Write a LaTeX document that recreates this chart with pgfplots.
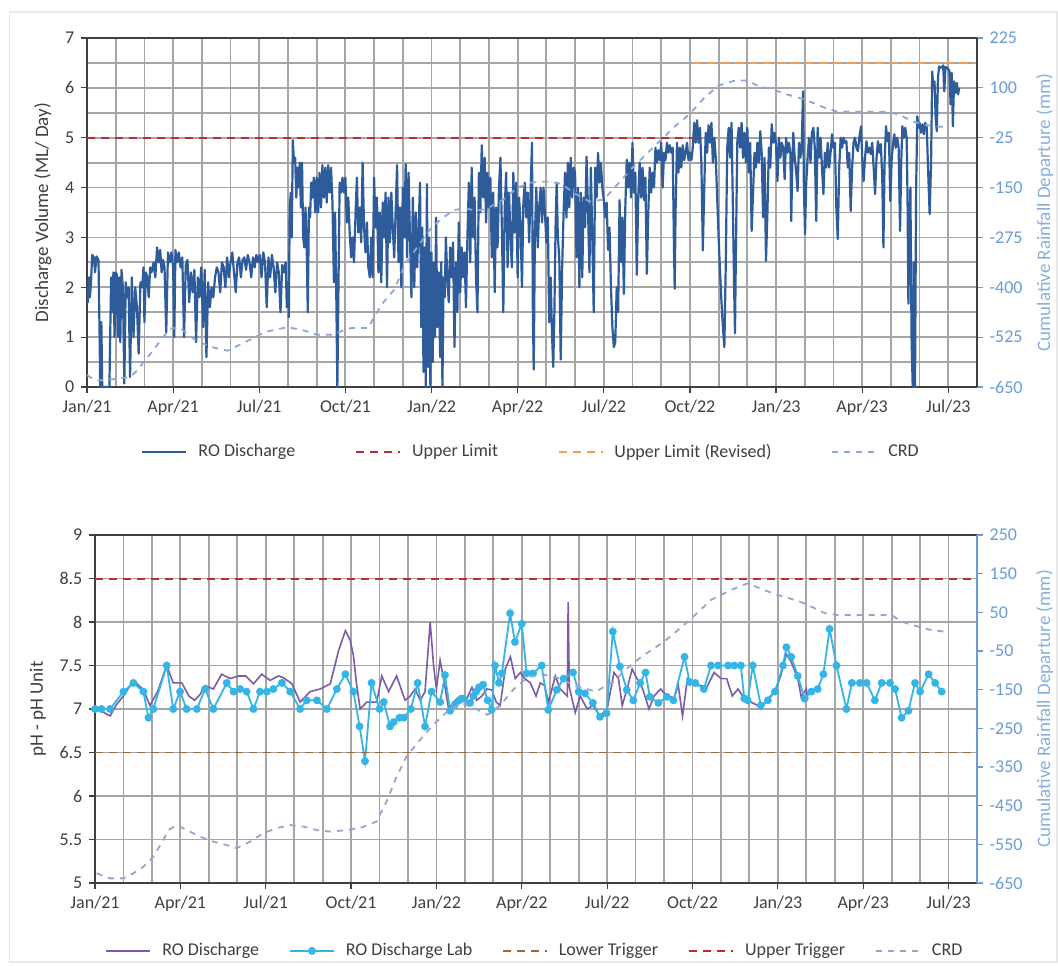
\documentclass[border=0pt]{standalone}
\usepackage{fontspec}
\setmainfont{Carlito}
\usepackage{pgfplots}
\pgfplotsset{compat=1.18}

\definecolor{roblue}{HTML}{2E5B9A}
\definecolor{crdtop}{HTML}{8EA6D4}
\definecolor{crdbot}{HTML}{97A5CC}
\definecolor{rightlab}{HTML}{6A9BD8}
\definecolor{limred}{HTML}{C8282D}
\definecolor{limorange}{HTML}{F0A050}
\definecolor{rophpurple}{HTML}{7D5BA6}
\definecolor{labcyan}{HTML}{35B5E5}
\definecolor{lowtrig}{HTML}{9C6A3A}
\definecolor{gridc}{HTML}{A6A6A6}
\definecolor{framec}{HTML}{404040}
\definecolor{textc}{HTML}{404040}

\pgfplotsset{
  panel/.style={
    scale only axis,
    xmin=0, xmax=31,
    xtick={0,3,...,30},
    xticklabels={Jan/21,Apr/21,Jul/21,Oct/21,Jan/22,Apr/22,Jul/22,Oct/22,Jan/23,Apr/23,Jul/23},
    minor xtick={1,2,...,31},
    grid=both,
    major grid style={gridc, line width=0.9pt},
    minor grid style={gridc, line width=0.9pt},
    axis line style={framec, line width=0.7pt},
    tick style={framec, line width=0.6pt},
    tick align=outside,
    major tick length=2.8pt,
    minor tick length=0pt,
    xtick pos=bottom, ytick pos=left,
    tick label style={font=\fontsize{9}{10}\selectfont, text=textc},
    label style={font=\fontsize{9.5}{11}\selectfont, text=textc},
    /pgf/number format/assume math mode=true,
    legend style={draw=none, fill=none, font=\fontsize{9}{10}\selectfont, text=textc,
      /tikz/every odd column/.append style={column sep=3.5pt}},
    legend image code/.code={\draw[mark repeat=2,mark phase=2,#1] plot coordinates {(0pt,0pt) (11pt,0pt) (22pt,0pt)};},
  },
  rightpanel/.style={
    scale only axis,
    xmin=0, xmax=31,
    axis x line=none,
    axis y line*=right,
    y axis line style={framec, line width=0.7pt},
    tick style={rightlab, line width=0.6pt},
    tick align=outside,
    major tick length=2.8pt,
    tick label style={font=\fontsize{9}{10}\selectfont, text=rightlab},
    label style={font=\fontsize{9.5}{11}\selectfont, text=rightlab!80},
    ylabel={Cumulative Rainfall Departure (mm)},
  },
}

\begin{document}
\begin{tikzpicture}
\useasboundingbox (0pt,0pt) rectangle (529pt,-482.5pt);
\fill[white] (0pt,0pt) rectangle (529pt,-482.5pt);
\draw[black!9, line width=0.6pt] (4.75pt,-6pt) rectangle (528.5pt,-481pt);

% ---------------- top panel: discharge volume ----------------
\begin{axis}[panel,
  at={(43.5pt,-193.5pt)}, anchor=south west,
  width=445pt, height=174.5pt,
  ymin=0, ymax=7,
  ytick={0,1,...,7},
  minor ytick={0.5,1.5,...,6.5},
  ylabel={Discharge Volume (ML/ Day)},
  legend columns=4,
  legend style={at={(0.5,-0.186)}, anchor=center,
    /tikz/every even column/.append style={column sep=28pt}},
]
\addplot[roblue, line width=1.1pt, line join=round] coordinates {
(0.00,2.0) (0.03,1.7) (0.07,2.2) (0.10,1.8) (0.14,2.1) (0.18,2.65) (0.24,2.6) (0.28,2.3)
(0.33,2.62) (0.40,2.55) (0.44,1.0) (0.46,0.0) (0.50,1.3) (0.53,0.0) (0.60,0.0) (0.70,0.0)
(0.78,0.0) (0.84,2.2) (0.88,1.5) (0.92,2.3) (0.96,1.0) (1.00,2.3)
(1.04,2.25) (1.08,1.0) (1.12,2.2) (1.16,0.9) (1.20,2.35) (1.25,2.0) (1.30,0.07) (1.35,2.1)
(1.40,1.8) (1.45,2.0) (1.50,0.2) (1.56,2.2) (1.62,1.0) (1.68,2.0) (1.74,1.6) (1.80,0.67)
(1.86,2.1) (1.92,2.0) (1.97,2.4) (2.00,1.3)
(2.05,2.3) (2.10,2.2) (2.15,1.8) (2.20,2.4) (2.25,2.3) (2.32,2.5) (2.38,2.2) (2.44,2.8)
(2.50,2.5) (2.55,2.75) (2.60,2.3) (2.65,2.55) (2.70,2.4) (2.76,1.1) (2.82,2.7) (2.88,2.5)
(2.94,2.7) (3.00,2.4)
(3.04,1.0) (3.08,2.75) (3.14,2.5) (3.20,2.7) (3.26,2.4) (3.32,2.6) (3.38,1.0) (3.44,2.45)
(3.50,2.55) (3.56,1.7) (3.62,2.3) (3.68,1.9) (3.74,2.35) (3.80,0.9) (3.86,2.2) (3.92,1.8)
(3.98,2.4)
(4.04,1.2) (4.10,2.35) (4.16,0.6) (4.22,2.1) (4.28,1.6) (4.34,2.0) (4.40,1.8) (4.46,2.2)
(4.52,2.4) (4.58,2.3) (4.64,1.9) (4.70,2.5) (4.76,2.4) (4.82,2.0) (4.88,2.6) (4.94,2.2)
(5.00,2.5)
(5.06,2.7) (5.12,2.3) (5.18,1.9) (5.24,2.5) (5.30,2.6) (5.36,2.2) (5.42,2.55) (5.48,2.6)
(5.54,2.35) (5.60,2.65) (5.66,2.5) (5.72,2.2) (5.78,2.6) (5.84,2.4) (5.90,2.65) (5.96,2.5)
(6.02,2.65) (6.08,2.2) (6.14,2.7) (6.20,2.5) (6.26,1.6) (6.32,2.6) (6.38,2.2) (6.44,2.65)
(6.50,2.4) (6.56,1.9) (6.62,2.5) (6.68,2.3) (6.74,1.5) (6.80,2.45) (6.86,2.3) (6.92,2.5)
(6.96,1.6) (7.00,2.1)
(7.03,1.4) (7.06,3.6) (7.10,3.9) (7.13,3.0) (7.17,4.95) (7.21,4.5) (7.25,4.6) (7.29,3.8)
(7.33,4.4) (7.37,4.0) (7.41,4.5) (7.45,3.6) (7.49,4.5) (7.53,3.0) (7.57,2.8) (7.61,3.6)
(7.65,2.9) (7.69,1.5) (7.73,3.6) (7.77,3.4) (7.81,4.1) (7.85,3.8) (7.90,4.2) (7.95,3.5)
(8.00,4.2)
(8.05,3.5) (8.10,4.3) (8.15,3.6) (8.20,4.45) (8.25,3.8) (8.30,4.4) (8.35,3.7) (8.40,4.45)
(8.45,3.9) (8.50,4.4) (8.55,3.7) (8.60,2.1) (8.64,3.5) (8.68,2.0) (8.72,0.0) (8.76,2.1)
(8.80,4.1) (8.85,3.9) (8.90,4.2) (8.95,3.9) (9.00,4.2) (9.05,3.3) (9.10,3.8) (9.15,3.1)
(9.20,2.6) (9.25,3.0) (9.30,2.5) (9.35,3.4) (9.40,4.2) (9.45,3.1) (9.50,3.6) (9.55,2.9)
(9.60,4.5) (9.65,3.2) (9.70,2.7) (9.75,3.3) (9.80,2.4) (9.85,2.2) (9.90,3.0) (9.95,2.2)
(10.00,4.2) (10.05,3.2) (10.10,3.8) (10.15,2.3) (10.20,3.5) (10.25,2.1) (10.30,3.7) (10.35,3.0)
(10.40,3.9) (10.45,2.0) (10.50,3.8) (10.55,2.9) (10.60,3.9) (10.65,3.2) (10.70,2.6) (10.75,3.5)
(10.80,4.45) (10.85,2.5) (10.90,3.6) (10.95,2.0)
(11.00,4.0) (11.05,3.0) (11.10,4.47) (11.15,2.6) (11.20,4.3) (11.25,3.0) (11.30,1.8) (11.35,3.8)
(11.40,2.0) (11.45,3.5) (11.50,2.4) (11.55,3.2) (11.60,4.1) (11.64,1.2) (11.68,3.2) (11.72,0.3)
(11.76,2.8) (11.80,0.0) (11.84,4.07) (11.88,0.4) (11.92,3.0) (11.96,0.0) (12.00,2.7) (12.04,0.5)
(12.08,2.5) (12.12,1.0) (12.16,3.4) (12.20,1.2) (12.25,2.3) (12.30,0.6) (12.34,2.5) (12.38,0.0)
(12.42,2.2) (12.46,1.8) (12.50,3.0) (12.55,2.2) (12.60,1.7) (12.65,2.8) (12.70,2.2) (12.75,2.9)
(12.80,0.8) (12.85,2.5) (12.90,1.5) (12.95,3.3) (13.00,1.9) (13.05,2.8) (13.10,2.2) (13.15,2.7)
(13.20,1.6) (13.25,3.0) (13.30,4.1) (13.35,2.5) (13.40,4.4) (13.45,3.0) (13.50,3.8) (13.55,2.2)
(13.60,1.5) (13.65,4.3) (13.70,3.5) (13.75,4.85) (13.80,3.8) (13.85,4.6) (13.90,3.3) (13.95,4.3)
(14.00,3.6) (14.05,4.2) (14.10,2.6) (14.15,3.9) (14.20,1.9) (14.25,3.6) (14.30,2.8) (14.35,4.0)
(14.40,4.6) (14.45,3.2) (14.50,1.5) (14.55,3.6) (14.60,4.3) (14.65,2.4) (14.70,3.9) (14.75,3.0)
(14.80,2.4) (14.85,4.3) (14.90,3.1) (14.95,4.1) (15.00,2.2) (15.05,3.8) (15.10,3.3) (15.15,2.0)
(15.20,3.7) (15.25,4.1) (15.30,3.4) (15.35,3.9)
(15.40,2.9) (15.45,3.9) (15.50,4.9) (15.53,1.5) (15.56,0.35) (15.60,3.0) (15.65,4.0) (15.70,2.8)
(15.75,3.6) (15.80,4.0) (15.85,3.3) (15.90,4.0) (15.95,3.5) (16.00,2.9) (16.05,3.4) (16.10,1.3)
(16.15,2.2) (16.20,1.0) (16.24,0.4) (16.28,1.5) (16.32,3.2) (16.36,4.1) (16.40,3.0) (16.45,2.6)
(16.50,0.55) (16.55,2.4) (16.60,3.5) (16.65,4.3) (16.70,3.4) (16.75,4.5) (16.80,3.6) (16.85,4.6)
(16.90,3.8) (16.95,4.4) (17.00,4.3) (17.05,2.6) (17.10,4.0) (17.15,2.0) (17.20,3.9) (17.25,2.2)
(17.30,3.8) (17.35,3.2) (17.40,4.62) (17.45,3.6) (17.50,2.3) (17.55,4.4) (17.60,3.0) (17.65,1.5)
(17.70,4.4) (17.75,3.8) (17.80,4.7) (17.85,4.1) (17.90,4.5) (17.95,4.0) (18.00,3.75) (18.05,3.4)
(18.10,3.7) (18.15,2.75) (18.20,3.2) (18.25,2.0) (18.30,1.2) (18.35,0.8) (18.40,0.9) (18.45,2.0)
(18.50,1.5) (18.55,3.75) (18.60,2.5) (18.65,3.4) (18.70,1.87) (18.75,3.6) (18.80,4.56) (18.85,4.0)
(18.90,4.5) (18.95,3.8) (19.00,4.9) (19.05,3.9) (19.10,4.3) (19.15,2.25) (19.20,3.8) (19.25,4.5)
(19.30,3.8) (19.35,4.4) (19.40,3.75) (19.45,4.2) (19.50,2.27) (19.55,3.5) (19.60,4.4) (19.65,3.9)
(19.70,4.3) (19.75,4.0) (19.80,4.8) (19.85,4.5) (19.90,4.75) (19.95,4.55) (20.00,4.9) (20.05,4.0)
(20.10,4.7) (20.15,4.55) (20.20,4.9) (20.25,4.7) (20.30,4.85) (20.35,4.7) (20.40,4.8) (20.44,3.0)
(20.47,1.97) (20.50,3.5) (20.55,4.9) (20.60,4.3) (20.65,4.8) (20.70,4.4) (20.75,4.85) (20.80,4.55)
(20.85,4.7) (20.90,4.9) (20.95,4.55) (21.00,4.7) (21.05,4.55) (21.10,4.8) (21.15,5.3) (21.20,4.9)
(21.25,5.35) (21.30,4.9) (21.35,5.2) (21.40,4.5) (21.45,2.74) (21.50,4.0) (21.55,5.1) (21.60,4.7)
(21.65,5.25) (21.70,4.9) (21.75,5.3) (21.80,4.5) (21.85,5.0) (21.90,4.6) (21.95,3.8) (22.00,3.0)
(22.05,2.3) (22.10,1.7) (22.15,1.2) (22.20,0.8) (22.25,2.5) (22.30,4.8) (22.35,5.2) (22.40,4.6)
(22.45,5.3) (22.50,3.5) (22.54,2.0) (22.57,1.08) (22.60,2.6) (22.65,4.9) (22.70,5.2) (22.75,4.8)
(22.80,5.3) (22.85,4.6) (22.90,5.1) (22.95,4.5)
(23.00,5.2) (23.05,4.3) (23.10,4.9) (23.15,3.13) (23.20,3.9) (23.25,4.7) (23.30,4.4) (23.35,4.9)
(23.40,4.5) (23.45,5.13) (23.50,4.7) (23.55,3.4) (23.60,4.6) (23.65,2.53) (23.70,3.5) (23.75,4.8)
(23.80,4.4) (23.85,5.27) (23.90,4.9) (23.95,5.1) (24.00,4.87) (24.05,4.13) (24.10,5.0) (24.15,4.6)
(24.20,4.9) (24.25,4.8) (24.30,4.17) (24.35,5.0) (24.40,4.7) (24.45,4.9) (24.50,4.67) (24.53,3.33)
(24.56,4.3) (24.60,5.1) (24.65,4.6) (24.70,4.33) (24.75,3.93) (24.80,4.9) (24.85,4.6) (24.90,4.93)
(24.94,5.93) (24.97,4.0) (25.01,3.07) (25.05,4.07) (25.10,4.6) (25.15,5.0) (25.20,4.5) (25.25,5.1)
(25.30,5.2) (25.35,4.8) (25.40,3.33) (25.45,5.2) (25.50,4.6) (25.55,5.0) (25.60,4.4) (25.65,3.87)
(25.70,4.7) (25.75,4.4) (25.80,4.9) (25.85,4.4) (25.90,4.7) (25.95,5.07) (26.00,4.8) (26.05,4.9)
(26.10,3.6) (26.15,2.97) (26.20,4.4) (26.25,5.0) (26.30,4.8) (26.35,5.0) (26.40,4.9) (26.45,4.93)
(26.50,4.4) (26.55,4.7) (26.60,3.53) (26.65,4.4) (26.70,4.9) (26.75,5.0) (26.80,4.8) (26.85,4.73)
(26.90,5.0) (26.96,5.23) (27.00,4.6) (27.05,4.13) (27.10,4.6) (27.15,4.93) (27.20,4.7) (27.25,4.8)
(27.30,4.67) (27.35,4.9) (27.40,4.4) (27.45,3.87) (27.50,4.6) (27.55,4.93) (27.60,4.7) (27.65,4.87)
(27.70,4.2) (27.74,2.8) (27.78,4.5) (27.83,5.23) (27.88,4.93) (27.93,5.1) (27.98,3.73) (28.03,4.6)
(28.08,4.9) (28.12,5.07) (28.17,4.8) (28.22,5.0) (28.27,4.8) (28.32,3.13) (28.36,4.5) (28.40,5.23)
(28.45,5.0) (28.50,5.2) (28.55,5.0) (28.58,3.8) (28.61,1.67) (28.64,2.93) (28.68,4.0) (28.72,1.0)
(28.76,0.0) (28.80,2.5) (28.84,0.0) (28.88,4.0) (28.92,5.43) (28.96,5.2) (29.00,5.3) (29.05,5.1)
(29.10,5.27) (29.15,5.07) (29.20,5.3) (29.25,5.2) (29.30,4.3) (29.35,3.47) (29.40,4.5) (29.44,6.33)
(29.48,6.0) (29.52,6.13) (29.56,5.4) (29.60,5.13) (29.64,6.2) (29.68,6.43) (29.75,6.4) (29.82,6.45)
(29.86,5.93) (29.90,6.42) (29.95,6.4) (30.00,6.38) (30.04,6.33) (30.08,5.67) (30.12,6.3) (30.16,5.23)
(30.20,6.13) (30.25,5.9) (30.30,6.1) (30.34,5.87) (30.38,6.0)
};
\addlegendentry{RO Discharge}
\addplot[limred, line width=0.9pt, dash pattern=on 4pt off 3pt] coordinates {(0,5) (21.1,5)};
\addlegendentry{Upper Limit}
\addplot[limorange, line width=0.7pt, dash pattern=on 4pt off 3pt] coordinates {(21.1,6.5) (31,6.5)};
\addlegendentry{Upper Limit (Revised)}
\addlegendimage{crdtop, line width=0.9pt, dash pattern=on 3pt off 3pt}
\addlegendentry{CRD}
\end{axis}

\begin{axis}[rightpanel,
  at={(43.5pt,-193.5pt)}, anchor=south west,
  width=445pt, height=174.5pt,
  ymin=-650, ymax=225,
  ytick={-650,-525,-400,-275,-150,-25,100,225},
  yticklabels={-650,-525,-400,-275,-150,-25,100,225},
]
\addplot[crdtop, line width=0.9pt, dash pattern=on 3pt off 3pt] coordinates {
(0,-620) (0.3,-634) (0.7,-632) (1.1,-629) (1.5,-625) (1.8,-605) (2.0,-584) (2.3,-559)
(2.6,-529) (2.9,-504) (3.2,-500) (3.8,-534) (4.35,-550) (4.9,-559) (5.4,-541) (5.75,-529)
(6.2,-512) (6.7,-504) (7.0,-500) (7.6,-509) (8.0,-519) (8.5,-519) (9.2,-502) (9.8,-502)
(10.0,-474) (10.3,-440) (10.7,-406) (11.1,-339) (11.5,-300) (12.0,-250) (12.4,-225) (12.8,-206)
(13.2,-202) (13.5,-208) (13.9,-204) (14.5,-180) (15.0,-150) (15.5,-137) (16.0,-135) (16.5,-140)
(17.0,-165) (17.5,-185) (18.0,-180) (18.5,-140) (19.0,-100) (19.5,-65) (20.0,-30) (20.5,5)
(21.0,35) (21.5,75) (22.0,106) (22.6,119) (23.0,118) (23.4,104) (23.9,96) (24.35,84)
(24.8,75) (25.3,62) (25.7,50) (26.1,41) (27.0,40) (27.95,40) (28.4,29) (28.75,16)
(29.1,9) (29.45,4) (29.85,2)
};
\end{axis}

% ---------------- bottom panel: pH ----------------
\begin{axis}[panel,
  at={(47.5pt,-441.5pt)}, anchor=south west,
  width=441pt, height=174pt,
  ymin=5, ymax=9,
  ytick={5,5.5,...,9},
  ylabel={pH - pH Unit},
  legend columns=5,
  legend style={at={(0.5,-0.195)}, anchor=center,
    /tikz/every even column/.append style={column sep=13pt}},
]
\addplot[rophpurple, line width=0.8pt] coordinates {
(0.0,7.0) (0.25,6.97) (0.53,6.92) (0.75,7.05) (1.0,7.15) (1.35,7.33) (1.7,7.22) (1.93,7.04)
(2.2,7.2) (2.52,7.5) (2.75,7.3) (3.05,7.3) (3.3,7.15) (3.5,7.1) (3.7,7.17) (3.87,7.27)
(4.16,7.23) (4.45,7.4) (4.75,7.35) (5.04,7.38) (5.3,7.38) (5.57,7.29) (5.86,7.4) (6.15,7.33)
(6.45,7.38) (6.62,7.36) (6.92,7.29) (7.21,7.08) (7.56,7.2) (7.91,7.23) (8.27,7.29) (8.56,7.67)
(8.8,7.9) (8.97,7.79) (9.08,7.62) (9.2,7.27) (9.32,7.0) (9.55,7.08) (9.9,7.08) (10.08,7.38)
(10.32,7.2) (10.6,7.38) (10.9,7.1) (11.08,7.15) (11.25,7.23) (11.43,7.1) (11.6,7.2) (11.78,8.0)
(11.9,7.5) (12.0,7.23) (12.13,7.56) (12.25,7.35) (12.43,7.0) (12.6,7.08) (12.84,7.15) (13.07,7.12)
(13.25,7.25) (13.42,7.1) (13.6,7.15) (13.77,7.23) (13.95,7.22) (14.1,7.08) (14.24,7.04) (14.42,7.46)
(14.6,7.6) (14.77,7.35) (14.95,7.42) (15.1,7.35) (15.3,7.3) (15.5,7.15) (15.65,7.3) (15.8,7.27)
(15.94,7.08) (16.18,7.38) (16.35,7.23) (16.6,7.15) (16.63,8.23) (16.67,7.25) (16.88,6.96) (17.05,7.15)
(17.3,7.0) (17.5,7.04) (17.75,6.92) (18.0,7.0) (18.24,7.42) (18.4,7.35) (18.53,7.04) (18.7,7.23)
(18.88,7.46) (19.05,7.35) (19.25,7.23) (19.47,7.0) (19.65,7.15) (19.88,7.23) (20.1,7.15) (20.35,7.13)
(20.5,7.27) (20.65,6.92) (20.82,7.35) (21.05,7.27) (21.3,7.27) (21.5,7.25) (21.76,7.42) (22.0,7.35)
(22.2,7.35) (22.4,7.15) (22.6,7.23) (22.82,7.12) (23.05,7.08) (23.3,7.04) (23.4,7.0) (23.65,7.12)
(23.9,7.2) (24.1,7.38) (24.3,7.63) (24.47,7.54) (24.7,7.35) (24.82,7.14) (25.0,7.23) (25.05,7.12)
};
\addlegendentry{RO Discharge}
\addplot[labcyan, line width=0.9pt, mark=*, mark size=1.5pt, mark options={fill=labcyan, draw=labcyan}] coordinates {
(0.00,7.0) (0.23,7.0) (0.53,7.0) (1.00,7.2) (1.35,7.3) (1.70,7.2) (1.88,6.9) (2.05,7.0)
(2.52,7.5) (2.75,7.0) (2.99,7.2) (3.22,7.0) (3.58,7.0) (3.87,7.23) (4.16,7.0) (4.63,7.3)
(4.87,7.2) (5.10,7.23) (5.33,7.2) (5.57,7.0) (5.80,7.2) (6.04,7.2) (6.27,7.23) (6.57,7.3)
(6.86,7.2) (7.21,7.0) (7.44,7.1) (7.80,7.1) (8.15,7.0) (8.50,7.23) (8.80,7.4) (9.08,7.2)
(9.30,6.8) (9.49,6.4) (9.72,7.3) (10.00,7.0) (10.15,7.08) (10.37,6.8) (10.50,6.85) (10.70,6.9)
(10.85,6.9) (11.10,7.0) (11.34,7.3) (11.60,6.8) (11.83,7.2) (12.13,7.08) (12.30,7.39) (12.48,6.98)
(12.65,7.05) (12.80,7.1) (12.94,7.12) (13.18,7.07) (13.30,7.15) (13.40,7.2) (13.50,7.25) (13.64,7.28)
(13.80,7.1) (13.94,6.99) (14.06,7.5) (14.20,7.3) (14.30,7.41) (14.59,8.1) (14.76,7.77) (15.00,7.98)
(15.17,7.41) (15.40,7.41) (15.70,7.5) (15.93,6.99) (16.23,7.22) (16.47,7.35) (16.80,7.42) (17.00,7.2)
(17.22,7.18) (17.50,7.07) (17.75,6.91) (17.98,6.95) (18.20,7.89) (18.45,7.49) (18.69,7.22) (18.92,7.1)
(19.16,7.3) (19.35,7.42) (19.50,7.14) (19.80,7.07) (20.10,7.14) (20.33,7.1) (20.72,7.6) (20.90,7.31)
(21.10,7.3) (21.40,7.23) (21.65,7.5) (21.90,7.5) (22.25,7.5) (22.47,7.5) (22.70,7.5) (22.82,7.12)
(22.94,7.1) (23.12,7.5) (23.40,7.04) (23.65,7.1) (23.90,7.2) (24.18,7.5) (24.30,7.71) (24.47,7.6)
(24.70,7.38) (24.94,7.12) (25.18,7.2) (25.40,7.23) (25.60,7.4) (25.82,7.92) (26.06,7.5) (26.41,7.0)
(26.60,7.3) (26.88,7.3) (27.12,7.3) (27.41,7.1) (27.65,7.3) (27.94,7.3) (28.12,7.23) (28.35,6.9)
(28.59,6.98) (28.82,7.3) (29.00,7.2) (29.30,7.4) (29.53,7.3) (29.76,7.2)
};
\addlegendentry{RO Discharge Lab}
\addplot[lowtrig, line width=0.7pt, dash pattern=on 4pt off 3pt] coordinates {(0,6.5) (31,6.5)};
\addlegendentry{Lower Trigger}
\addplot[limred, line width=1.0pt, dash pattern=on 4pt off 3pt] coordinates {(0,8.5) (31,8.5)};
\addlegendentry{Upper Trigger}
\addlegendimage{crdbot, line width=0.9pt, dash pattern=on 3pt off 3pt}
\addlegendentry{CRD}
\end{axis}

\begin{axis}[rightpanel,
  at={(47.5pt,-441.5pt)}, anchor=south west,
  width=441pt, height=174pt,
  ymin=-650, ymax=250,
  ytick={-650,-550,...,250},
  yticklabels={-650,-550,-450,-350,-250,-150,-50,50,150,250},
  y axis line style={rightlab, line width=0.7pt},
]
\addplot[crdbot, line width=0.9pt, dash pattern=on 3pt off 3pt] coordinates {
(0.06,-625) (0.53,-638) (1.0,-638) (1.35,-625) (1.7,-608) (2.05,-582) (2.4,-539) (2.58,-513)
(2.87,-500) (3.22,-513) (3.69,-530) (4.16,-543) (4.63,-552) (4.98,-560) (5.45,-543) (5.92,-521)
(6.39,-508) (6.85,-500) (7.32,-504) (7.79,-513) (8.26,-517) (8.85,-513) (9.3,-508) (9.9,-491)
(10.27,-435) (10.6,-375) (10.95,-323) (11.42,-280) (11.9,-240) (12.4,-205) (12.9,-185) (13.4,-200)
(13.8,-215) (14.25,-190) (14.7,-150) (15.2,-118) (15.7,-110) (16.3,-120) (16.9,-140) (17.6,-155)
(18.2,-130) (18.7,-95) (19.2,-65) (20.0,-26) (20.9,30) (21.65,82) (22.35,108) (22.94,125)
(23.5,108) (24.0,95) (24.6,82) (24.94,73) (25.65,48) (26.1,43) (27.06,43) (28.0,43)
(28.35,26) (28.94,13) (29.4,4) (29.9,0)
};
\end{axis}
\end{tikzpicture}
\end{document}
